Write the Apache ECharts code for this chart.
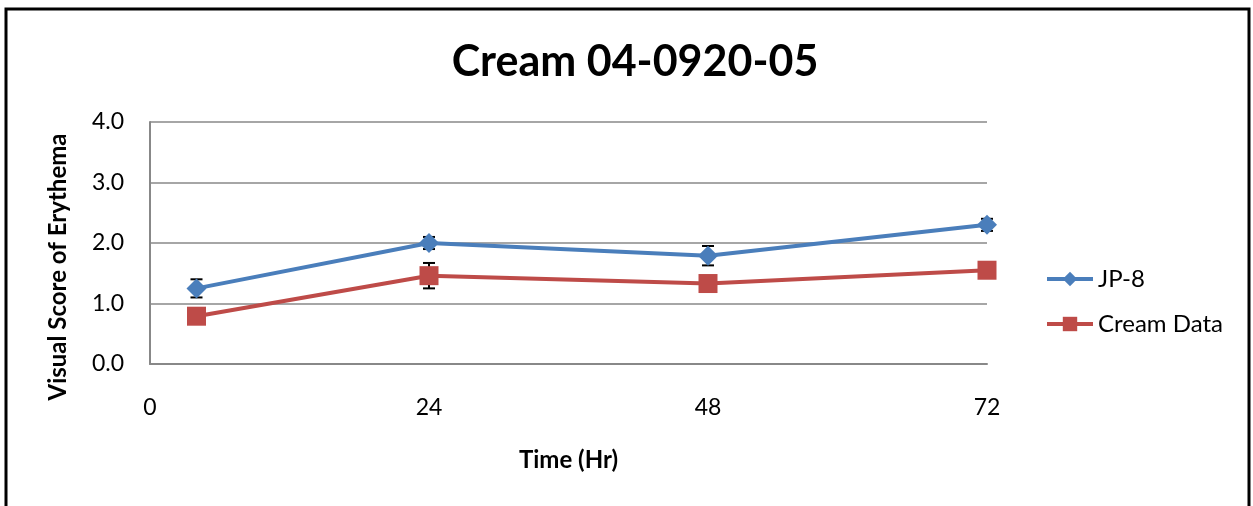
<!DOCTYPE html>
<html>
<head>
<meta charset="utf-8">
<script src="https://cdn.jsdelivr.net/npm/echarts@6/dist/echarts.min.js"></script>
<style>
  html, body { margin: 0; padding: 0; background: #fff; }
  #chart { width: 1253px; height: 506px; }
</style>
</head>
<body>
<div id="chart"></div>
<script>
// time points (hours)
const hours = [4, 24, 48, 72];
const xTicks = [0, 24, 48, 72];

// visual erythema scores
const jp8 = [1.25, 2.0, 1.79, 2.3];
const jp8Err = [0.15, 0.1, 0.16, 0.1];
const cream = [0.79, 1.46, 1.33, 1.55];
const creamErr = [0.1, 0.21, 0.1, 0.05];

const fontFam = 'Lato, "Open Sans", sans-serif';

function pairs(ys) {
  return hours.map((h, i) => [h, ys[i]]);
}
function errData(ys, errs) {
  return hours.map((h, i) => [h, ys[i] - errs[i], ys[i] + errs[i]]);
}
function errorBars(params, api) {
  const x = api.value(0);
  const lo = api.coord([x, api.value(1)]);
  const hi = api.coord([x, api.value(2)]);
  const w = 6;
  const style = { stroke: '#000', lineWidth: 2 };
  return {
    type: 'group',
    children: [
      { type: 'line', shape: { x1: lo[0], y1: lo[1], x2: hi[0], y2: hi[1] }, style: style },
      { type: 'line', shape: { x1: lo[0] - w, y1: lo[1], x2: lo[0] + w, y2: lo[1] }, style: style },
      { type: 'line', shape: { x1: hi[0] - w, y1: hi[1], x2: hi[0] + w, y2: hi[1] }, style: style },
    ],
  };
}

const myChart = echarts.init(document.getElementById('chart'));
myChart.setOption({
  backgroundColor: '#fff',
  animation: false,
  title: {
    text: 'Cream 04-0920-05',
    left: 630,
    textAlign: 'center',
    top: 36,
    textStyle: { fontFamily: fontFam, fontSize: 43, fontWeight: 'bold', color: '#000' },
  },
  graphic: [
    {
      type: 'rect',
      shape: { x: 6, y: 9, width: 1243, height: 520 },
      style: { fill: 'none', stroke: '#000', lineWidth: 3 },
      silent: true,
    },
  ],
  legend: {
    orient: 'vertical',
    left: 1040,
    top: 262,
    itemWidth: 46,
    itemHeight: 18,
    itemGap: 21,
    lineStyle: { width: 4 },
    textStyle: { fontFamily: fontFam, fontSize: 24, color: '#000', padding: [0, 0, 0, 0] },
    data: ['JP-8', 'Cream Data'],
  },
  grid: { left: 150, right: 266, top: 122, bottom: 142 },
  xAxis: {
    type: 'value',
    min: 0,
    max: 72,
    interval: 24,
    name: 'Time (Hr)',
    nameLocation: 'middle',
    nameGap: 84,
    nameTextStyle: { fontFamily: fontFam, fontSize: 24, fontWeight: 'bold', color: '#000' },
    axisLine: { show: true, lineStyle: { color: '#888', width: 2 } },
    axisTick: { show: false },
    splitLine: { show: false },
    axisLabel: {
      margin: 32,
      fontFamily: fontFam,
      fontSize: 23,
      color: '#000',
      customValues: xTicks,
    },
  },
  yAxis: {
    type: 'value',
    min: 0,
    max: 4,
    interval: 1,
    name: 'Visual Score of Erythema',
    nameLocation: 'middle',
    nameGap: 80,
    nameTextStyle: {
      fontFamily: fontFam,
      fontSize: 24,
      fontWeight: 'bold',
      color: '#000',
      padding: [0, 48, 0, 0],
    },
    axisLine: { show: true, lineStyle: { color: '#888', width: 2 } },
    axisTick: { show: false },
    splitLine: { show: true, lineStyle: { color: '#888', width: 1.5 } },
    axisLabel: {
      margin: 26,
      fontFamily: fontFam,
      fontSize: 23,
      color: '#000',
      formatter: (v) => v.toFixed(1),
    },
  },
  series: [
    {
      name: 'JP-8 err',
      type: 'custom',
      renderItem: errorBars,
      data: errData(jp8, jp8Err),
      encode: { x: 0, y: [1, 2] },
      z: 1,
      silent: true,
    },
    {
      name: 'Cream err',
      type: 'custom',
      renderItem: errorBars,
      data: errData(cream, creamErr),
      encode: { x: 0, y: [1, 2] },
      z: 1,
      silent: true,
    },
    {
      name: 'JP-8',
      type: 'line',
      data: pairs(jp8),
      symbol: 'diamond',
      symbolSize: 20,
      color: '#4A7EBB',
      lineStyle: { width: 4, color: '#4A7EBB' },
      itemStyle: { color: '#4A7EBB' },
      z: 3,
    },
    {
      name: 'Cream Data',
      type: 'line',
      data: pairs(cream),
      symbol: 'rect',
      symbolSize: 19,
      color: '#BE4B48',
      lineStyle: { width: 4, color: '#BE4B48' },
      itemStyle: { color: '#BE4B48' },
      z: 2,
    },
  ],
});
</script>
</body>
</html>
